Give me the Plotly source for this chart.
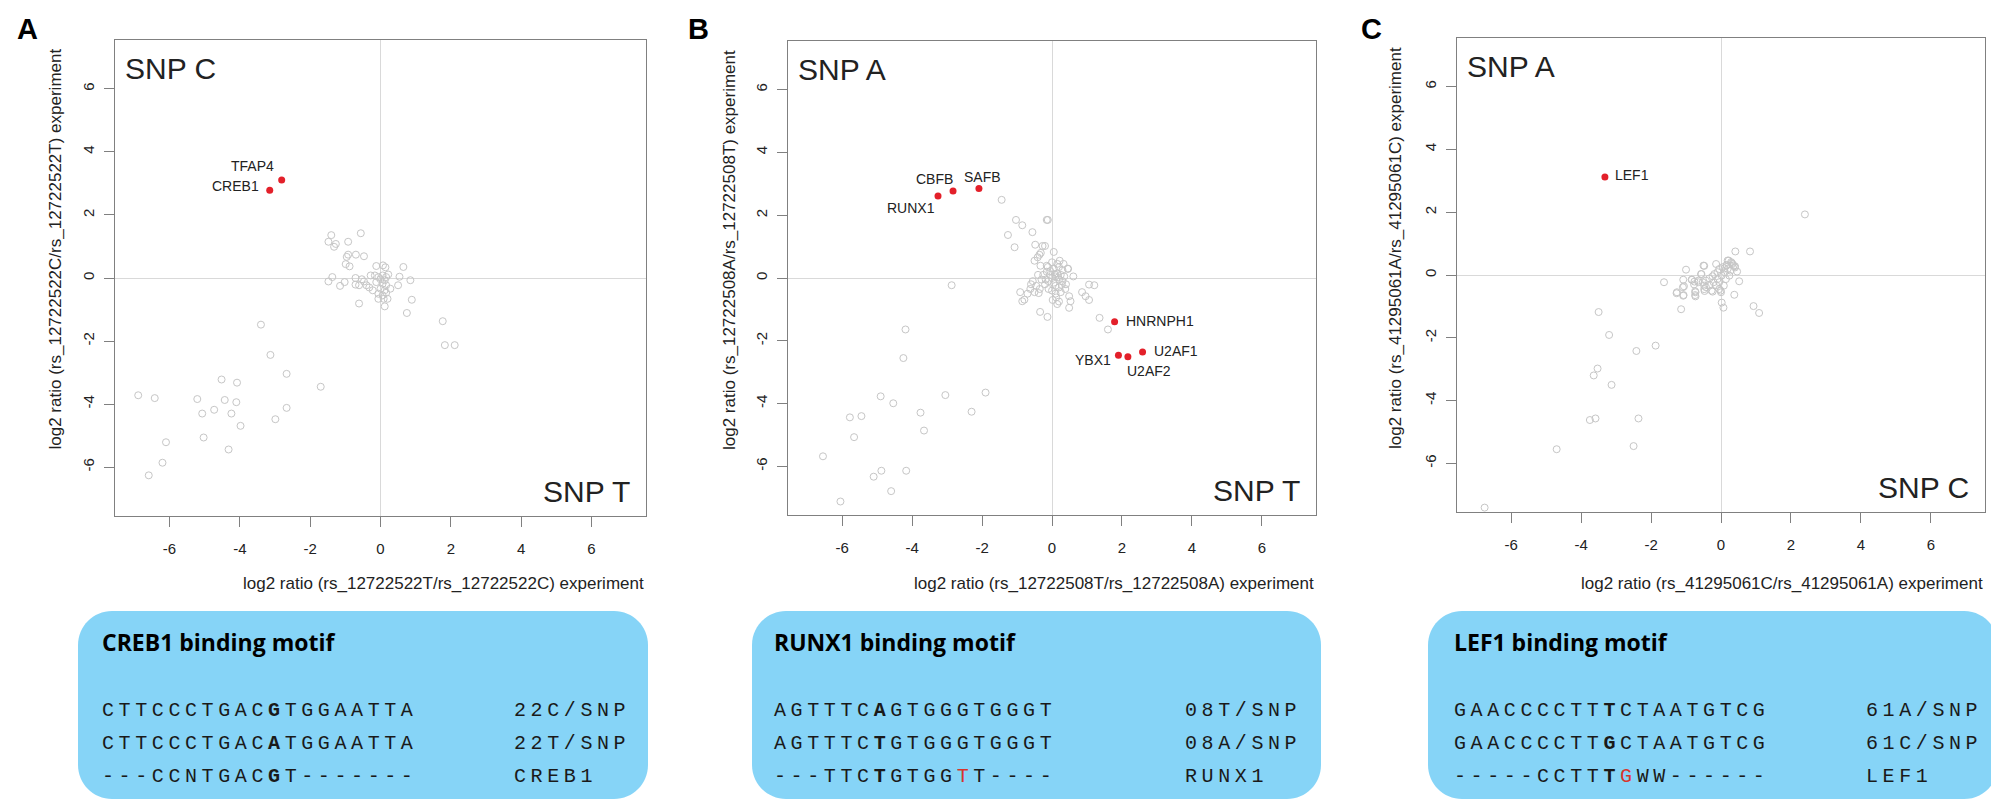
import plotly.graph_objects as go

W, H = 1999, 800

# ---- panel A: rs_12722522 ----
a_x = [-1.40, -0.56, -1.48, -1.27, -1.32, -0.92, -0.92, -0.96, -0.70, -0.47,
       -0.99, -0.88, -1.37, -1.48, -1.15, -1.02, -0.71, -0.71, -0.61, -0.53,
       -0.47, -0.40, -0.32, -0.22, -0.61, -0.28,
       -0.12, 0.07, 0.14, -0.16, -0.06, 0.06, 0.16, 0.22, 0.00, 0.12,
       -0.12, 0.06, 0.16, 0.00, 0.12, -0.06, 0.06, 0.16, -0.06, 0.09,
       0.20, 0.12, 0.28,
       0.54, 0.65, 0.85, 0.50, 0.89, 0.75,
       1.77, 1.83, 2.11,
       -3.40, -3.13, -2.67, -1.70, -4.52, -4.08, -6.89, -6.42, -5.21, -4.43,
       -4.10, -2.67, -4.73, -5.07, -4.24, -2.99, -3.98, -6.10, -5.03, -4.32,
       -6.20, -6.59]
a_y = [1.36, 1.42, 1.15, 1.08, 0.99, 1.15, 0.74, 0.67, 0.74, 0.69,
       0.44, 0.37, 0.03, -0.11, -0.25, -0.13, 0.00, -0.21, -0.23, -0.04,
       -0.11, -0.23, -0.30, -0.39, -0.81, 0.08,
       0.38, 0.40, 0.34, 0.08, 0.03, 0.08, 0.03, 0.11, -0.04, -0.07,
       -0.13, -0.18, -0.23, -0.34, -0.39, -0.50, -0.55, -0.47, -0.66, -0.66,
       -0.66, -0.90, -0.34,
       0.04, 0.35, -0.07, -0.23, -0.69, -1.11,
       -1.37, -2.13, -2.13,
       -1.48, -2.44, -3.04, -3.45, -3.22, -3.32, -3.72, -3.81, -3.84, -3.87,
       -3.94, -4.12, -4.18, -4.30, -4.30, -4.48, -4.69, -5.21, -5.06, -5.44,
       -5.86, -6.26]
a_hit_x = [-2.81, -3.15]
a_hit_y = [3.11, 2.78]
a_hit_names = ["TFAP4", "CREB1"]

# ---- panel B: rs_12722508 ----
b_x = [-1.44, -1.03, -0.85, -0.15, -0.12, -0.56, -1.26, -1.07, -0.48, -0.27,
       -0.20, 0.05, -0.36, -0.41, -0.32, -0.50, -0.33, -0.15, -2.87, -0.91,
       -0.85, -0.79, -0.34, -0.13, 0.15, 0.49, 0.53, 0.49, 0.86, 0.96,
       1.06, 1.06, 1.21, 0.61, 0.46, 1.36, 1.60,
       0.00, 0.10, 0.20, 0.15, 0.05, -0.05, 0.25, 0.30, 0.10, 0.20,
       -0.10, -0.15, 0.05, 0.20, 0.30, 0.35, 0.40, -0.20, -0.30, -0.25,
       0.00, 0.10, 0.25, -0.10, 0.15, 0.00, -0.35, -0.45, -0.50, -0.55,
       -0.40, 0.12, 0.20, 0.02, 0.45, 0.38, -0.05, 0.08, 0.18, 0.28,
       -0.18, -0.12, 0.33, 0.22, -0.60, -0.62, -0.70, -0.38,
       -4.19, -4.25, -4.90, -4.54, -3.05, -1.90, -3.76, -2.30, -5.78, -5.45,
       -5.66, -3.66, -6.55, -4.88, -5.10, -4.17, -4.60, -6.05]
b_y = [2.49, 1.85, 1.68, 1.85, 1.85, 1.46, 1.37, 0.98, 1.06, 1.02,
       1.02, 0.83, 0.74, 0.66, 0.80, 0.55, 0.39, 0.39, -0.23, -0.45,
       -0.74, -0.69, -1.08, -1.24, -0.83, -0.95, -0.74, -0.58, -0.45, -0.58,
       -0.70, -0.21, -0.23, 0.05, 0.29, -1.27, -1.64,
       0.00, 0.05, -0.05, 0.15, -0.15, 0.10, 0.10, -0.10, -0.25, -0.30,
       -0.10, 0.20, 0.30, 0.35, 0.25, 0.05, -0.20, -0.20, -0.05, 0.10,
       -0.40, -0.50, -0.45, -0.35, 0.45, 0.50, -0.35, -0.25, -0.45, -0.10,
       0.10, -0.62, -0.75, -0.70, 0.30, -0.35, 0.22, 0.12, 0.02, -0.22,
       -0.05, 0.35, 0.45, 0.55, -0.20, -0.35, -0.50, -0.48,
       -1.64, -2.55, -3.77, -3.99, -3.73, -3.65, -4.29, -4.26, -4.44, -4.40,
       -5.07, -4.86, -5.68, -6.14, -6.33, -6.14, -6.79, -7.12]
b_hit_x = [-3.26, -2.83, -2.09, 1.79, 1.90, 2.17, 2.59]
b_hit_y = [2.61, 2.77, 2.85, -1.39, -2.46, -2.51, -2.36]
b_hit_names = ["RUNX1", "CBFB", "SAFB", "HNRNPH1", "YBX1", "U2AF2", "U2AF1"]

# ---- panel C: rs_41295061 ----
c_x = [2.40, 0.41, 0.83, 0.22, 0.31, 0.16, 0.40, -0.48, -1.00, -1.63,
       -1.08, -1.06, -1.27, -1.08, -0.73, -0.73, -0.83, -0.77, -0.65, -0.56,
       -0.48, -0.47, -0.24, -0.01, 0.02, 0.07, 0.38, 0.52, 0.93, 1.09,
       -1.14, -3.50, -3.20, -1.87, -2.42, -3.53, -3.64, -3.13, -3.75, -3.59,
       -2.36, -2.50, -4.70, -6.76,
       -0.50, -0.14, 0.19, 0.29, 0.33, 0.36, 0.16, 0.05, -0.05, -0.10,
       -0.19, -0.24, -0.33, -0.43, -0.52, -0.57, -0.76, -0.84, -1.09, -1.26,
       -1.07, -0.74, -0.74, -0.48, -0.27, -0.05, 0.00, 0.08, 0.14, 0.24,
       0.11, 0.02, -0.10, -0.21, -0.33, -0.43, -0.05, -0.14, 0.19, 0.27,
       0.10, 0.40, -0.65, 0.46]
c_y = [1.93, 0.75, 0.75, 0.46, 0.38, 0.30, 0.28, 0.29, 0.17, -0.23,
       -0.15, -0.36, -0.58, -0.66, -0.55, -0.68, -0.15, -0.30, -0.23, 0.03,
       -0.34, -0.51, -0.53, -0.50, -0.88, -1.04, -0.63, -0.20, -0.99, -1.21,
       -1.09, -1.18, -1.91, -2.25, -2.42, -2.98, -3.20, -3.50, -4.62, -4.57,
       -4.57, -5.45, -5.55, -7.41,
       0.30, 0.35, 0.46, 0.41, 0.35, 0.30, 0.32, 0.25, 0.19, 0.09,
       0.03, -0.04, -0.11, -0.18, -0.23, 0.03, -0.21, -0.15, -0.39, -0.55,
       -0.64, -0.64, -0.52, -0.45, -0.50, -0.45, -0.55, -0.34, -0.13, -0.02,
       0.09, -0.02, -0.13, -0.23, -0.32, -0.39, -0.23, -0.32, 0.19, 0.14,
       0.21, 0.24, -0.18, 0.11]
c_hit_x = [-3.32]
c_hit_y = [3.12]
c_hit_names = ["LEF1"]

tick_vals = [-6, -4, -2, 0, 2, 4, 6]
tick_text = ["-6", "-4", "-2", "0", "2", "4", "6"]

x_titles = ["log2 ratio (rs_12722522T/rs_12722522C) experiment",
            "log2 ratio (rs_12722508T/rs_12722508A) experiment",
            "log2 ratio (rs_41295061C/rs_41295061A) experiment"]
y_titles = ["log2 ratio (rs_12722522C/rs_12722522T) experiment",
            "log2 ratio (rs_12722508A/rs_12722508T) experiment",
            "log2 ratio (rs_41295061A/rs_41295061C) experiment"]
top_snps = ["SNP C", "SNP A", "SNP A"]
bottom_snps = ["SNP T", "SNP T", "SNP C"]
panel_letters = ["A", "B", "C"]

motif_titles = ["CREB1 binding motif", "RUNX1 binding motif", "LEF1 binding motif"]
motif_seqs = [["CTTCCCTGACGTGGAATTA", "CTTCCCTGACATGGAATTA", "---CCNTGACGT-------"],
              ["AGTTTCAGTGGGTGGGT", "AGTTTCTGTGGGTGGGT", "---TTCTGTGGTT----"],
              ["GAACCCCTTTCTAATGTCG", "GAACCCCTTGCTAATGTCG", "-----CCTTTGWW------"]]
motif_names = [["22C/SNP", "22T/SNP", "CREB1"],
               ["08T/SNP", "08A/SNP", "RUNX1"],
               ["61A/SNP", "61C/SNP", "LEF1"]]
motif_bold = [10, 6, 9]          # index of the SNP base in each sequence
motif_red = [None, 11, 10]       # index of the mismatching base in the motif row

# ---- layout constants (pixels) ----
boxes = [(107, 638, 32, 508), (780, 1308, 33, 507), (1449, 1977, 30, 504)]
ytitle_x = [47, 721, 1388]
letter_x = [19, 690, 1363]
blue_boxes = [(70, 640), (744, 1313), (1420, 1990)]
seq_x = [(92, 504), (764, 1175), (1444, 1856)]
label_pos = {"TFAP4": ("right", -6, 14), "CREB1": ("right", -9, 4),
             "CBFB": ("right", 2, 12), "SAFB": ("center", 4, 12),
             "RUNX1": ("right", -1, -12), "HNRNPH1": ("left", 9, 1),
             "YBX1": ("right", -5, -5), "U2AF2": ("left", -3, -14),
             "U2AF1": ("left", 9, 1), "LEF1": ("left", 8, 2)}

SANS = "Liberation Sans, Arial, sans-serif"
MONO = "Courier New, Nimbus Mono PS, FreeMono, Liberation Mono, monospace"
GREY = "#c6c6c6"
RED = "#e3202a"
AXC = "#808080"


def px(x):
    return x / W


def py(y):
    return 1 - y / H


fig = go.Figure()
layout = dict(width=W, height=H, margin=dict(l=0, r=0, t=0, b=0),
              paper_bgcolor="white", plot_bgcolor="white", showlegend=False)
annotations = []
shapes = []

panels = [(a_x, a_y, a_hit_x, a_hit_y, a_hit_names),
          (b_x, b_y, b_hit_x, b_hit_y, b_hit_names),
          (c_x, c_y, c_hit_x, c_hit_y, c_hit_names)]

for i, (gx, gy, hx, hy, hn) in enumerate(panels):
    sfx = "" if i == 0 else str(i + 1)
    xa, ya = "x" + sfx, "y" + sfx
    l, r, t, b = boxes[i]
    fig.add_trace(go.Scatter(x=gx, y=gy, mode="markers", xaxis=xa, yaxis=ya,
                             marker=dict(symbol="circle-open", size=7, color=GREY,
                                         line=dict(width=1, color=GREY)),
                             hoverinfo="skip"))
    fig.add_trace(go.Scatter(x=hx, y=hy, mode="markers", xaxis=xa, yaxis=ya,
                             marker=dict(symbol="circle", size=7, color=RED),
                             text=hn, hoverinfo="text"))
    common = dict(range=[-7.55, 7.55], tickvals=tick_vals, ticktext=tick_text,
                  ticks="outside", ticklen=10, tickwidth=1, tickcolor=AXC,
                  showline=True, linecolor=AXC, linewidth=1.2, mirror=True,
                  showgrid=False, zeroline=True, zerolinecolor="#d9d9d9",
                  zerolinewidth=1, fixedrange=True,
                  tickfont=dict(family=SANS, size=15, color="#222222"))
    layout["xaxis" + sfx] = dict(common, domain=[px(l), px(r)], anchor=ya,
                                 ticklabelstandoff=9)
    layout["yaxis" + sfx] = dict(common, domain=[py(b), py(t)], anchor=xa,
                                 tickangle=-90, ticklabelstandoff=4)

    # axis titles
    annotations.append(dict(text=x_titles[i], xref=xa + " domain", x=1, xanchor="right",
                            yref="paper", y=py(575), yanchor="middle", showarrow=False,
                            font=dict(family=SANS, size=17, color="#222222")))
    annotations.append(dict(text=y_titles[i], xref="paper", x=px(ytitle_x[i]),
                            xanchor="center", yref=ya + " domain", y=1, yanchor="top",
                            yshift=-7, textangle=-90, showarrow=False,
                            font=dict(family=SANS, size=17, color="#222222")))
    # SNP corner labels
    annotations.append(dict(text=top_snps[i], xref=xa + " domain", x=0, xanchor="left",
                            xshift=8, yref=ya + " domain", y=1, yanchor="top", yshift=-10,
                            showarrow=False, font=dict(family=SANS, size=30, color="#222222")))
    annotations.append(dict(text=bottom_snps[i], xref=xa + " domain", x=1, xanchor="right",
                            xshift=-14, yref=ya + " domain", y=0, yanchor="bottom", yshift=6,
                            showarrow=False, font=dict(family=SANS, size=30, color="#222222")))
    # panel letter
    annotations.append(dict(text="<b>%s</b>" % panel_letters[i], xref="paper",
                            x=px(letter_x[i]), xanchor="center", yref="paper", y=py(21),
                            yanchor="middle", showarrow=False,
                            font=dict(family=SANS, size=29, color="black")))
    # hit labels
    for name, hxv, hyv in zip(hn, hx, hy):
        anc, xs, ys = label_pos[name]
        annotations.append(dict(text=name, x=hxv, y=hyv, xref=xa, yref=ya,
                                xanchor=anc, yanchor="middle", xshift=xs, yshift=ys,
                                showarrow=False,
                                font=dict(family=SANS, size=14, color="#222222")))

    # motif box
    bx0, bx1 = blue_boxes[i]
    by0, by1 = 603, 791
    rad = 34
    k = 0.5523 * rad
    path = ("M {a},{b} L {c},{b} C {d},{b} {e},{f} {e},{g} L {e},{h} "
            "C {e},{i} {d},{j} {c},{j} L {a},{j} C {k2},{j} {m},{i} {m},{h} "
            "L {m},{g} C {m},{f} {k2},{b} {a},{b} Z").format(
        a=px(bx0 + rad), b=py(by0), c=px(bx1 - rad), d=px(bx1 - rad + k), e=px(bx1),
        f=py(by0 + rad - k), g=py(by0 + rad), h=py(by1 - rad), i=py(by1 - rad + k),
        j=py(by1), k2=px(bx0 + rad - k), m=px(bx0))
    shapes.append(dict(type="path", path=path, xref="paper", yref="paper",
                       fillcolor="#86d4f7", line=dict(width=0), layer="below"))

    sx, nx = seq_x[i]
    annotations.append(dict(text="<b>%s</b>" % motif_titles[i], xref="paper", x=px(sx),
                            xanchor="left", yref="paper", y=py(634), yanchor="middle",
                            showarrow=False,
                            font=dict(family="Open Sans, sans-serif", size=23, color="black")))
    for row, (seq, nm, yy) in enumerate(zip(motif_seqs[i], motif_names[i], [702, 735, 768])):
        parts = []
        for j, ch in enumerate(seq):
            if j == motif_bold[i]:
                parts.append("<b>%s</b>" % ch)
            elif row == 2 and motif_red[i] is not None and j == motif_red[i]:
                parts.append('<span style="color:#d9342b">%s</span>' % ch)
            else:
                parts.append(ch)
        txt = '<span style="letter-spacing:4.6px">%s</span>' % "".join(parts)
        annotations.append(dict(text=txt, xref="paper", x=px(sx), xanchor="left",
                                yref="paper", y=py(yy), yanchor="middle", showarrow=False,
                                font=dict(family=MONO, size=20, color="#1a1a1a")))
        annotations.append(dict(text='<span style="letter-spacing:4.6px">%s</span>' % nm,
                                xref="paper", x=px(nx), xanchor="left",
                                yref="paper", y=py(yy), yanchor="middle", showarrow=False,
                                font=dict(family=MONO, size=20, color="#1a1a1a")))

layout["annotations"] = annotations
layout["shapes"] = shapes
fig.update_layout(**layout)
fig.write_html("out.html")
